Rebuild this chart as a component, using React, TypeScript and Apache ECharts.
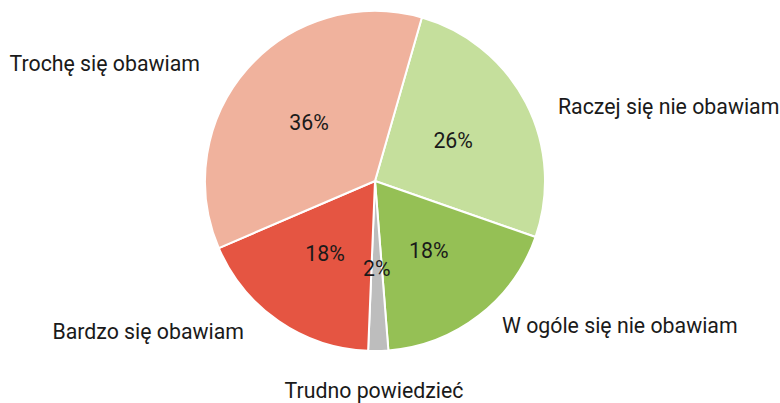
import React, { useEffect, useRef } from "react";
import * as echarts from "echarts";

const categories = [
  "Raczej się nie obawiam",
  "W ogóle się nie obawiam",
  "Trudno powiedzieć",
  "Bardzo się obawiam",
  "Trochę się obawiam",
];
const values = [25.9, 18.4, 1.9, 17.9, 35.9];
const colors = ["#C5DF9C", "#95C055", "#BDBDBD", "#E55542", "#F0B29D"];

// outer label anchor: x, y, horizontal alignment
const outerLabelAnchors: [number, number, string][] = [
  [558, 106, "left"],
  [502, 325, "left"],
  [374, 390, "center"],
  [244, 331, "right"],
  [200, 63, "right"],
];

const FONT = "Roboto, 'Noto Sans', sans-serif";
const TEXT_COLOR = "#1a1a1a";
const FONT_SIZE = 21.3;

export default function App() {
  const ref = useRef<HTMLDivElement>(null);
  useEffect(() => {
    document.body.style.margin = "0";
    const chart = echarts.init(ref.current!, null, { renderer: "svg" });
    const data = categories.map((name, i) => ({
      name,
      value: values[i],
      itemStyle: { color: colors[i] },
    }));
    const common = {
      type: "pie",
      center: [375, 181],
      radius: 170,
      startAngle: 74,
      clockwise: true,
      avoidLabelOverlap: false,
      silent: true,
    };
    chart.setOption({
      animation: false,
      textStyle: { fontFamily: FONT },
      series: [
        {
          ...common,
          data,
          itemStyle: { borderColor: "#ffffff", borderWidth: 2 },
          label: {
            show: true,
            position: "inside",
            formatter: (p: any) => Math.round(p.percent) + "%",
            fontSize: FONT_SIZE,
            fontFamily: FONT,
            color: TEXT_COLOR,
          },
          labelLine: { show: false },
        },
        {
          ...common,
          data: categories.map((name, i) => ({
            name,
            value: values[i],
            itemStyle: { color: "transparent" },
          })),
          itemStyle: { borderWidth: 0 },
          label: {
            show: true,
            position: "outside",
            formatter: "{b}",
            fontSize: FONT_SIZE,
            fontFamily: FONT,
            color: TEXT_COLOR,
          },
          labelLine: { show: false },
          labelLayout: (params: any) => {
            const a = outerLabelAnchors[params.dataIndex];
            return { x: a[0], y: a[1], align: a[2], verticalAlign: "middle" };
          },
        },
      ],
    });
    return () => chart.dispose();
  }, []);
  return (
    <div
      ref={ref}
      style={{ position: "absolute", left: 0, top: 0, width: 780, height: 403 }}
    />
  );
}
